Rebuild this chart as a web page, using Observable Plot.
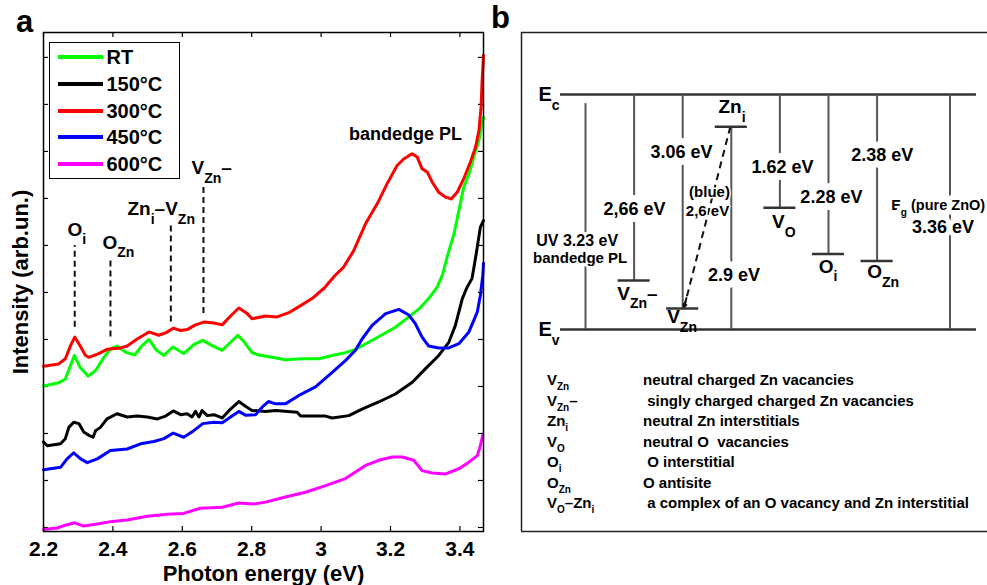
<!DOCTYPE html>
<html>
<head>
<meta charset="utf-8">
<script src="https://cdn.jsdelivr.net/npm/d3@7"></script>
<script src="https://cdn.jsdelivr.net/npm/@observablehq/plot@0.6"></script>
<style>
  body { margin: 0; background: #fff; }
  #fig { position: relative; width: 987px; height: 585px; overflow: hidden;
         font-family: 'Liberation Sans', Arial, sans-serif; font-weight: bold; color: #000; }
  #fig svg { position: absolute; top: 0; }
  .tag { position: absolute; font-size: 31px; line-height: 31px; }
  #legendA { position: absolute; left: 49px; top: 42px; width: 129px; height: 135px;
             border: 1.5px solid #000; background: #fff; }
  .sw { position: absolute; left: 7.5px; width: 45px; height: 4px; }
  .lt { position: absolute; left: 56.5px; font-size: 20px; line-height: 20px; white-space: pre; }
  #listB { position: absolute; left: 547px; top: 370px; }
  .row { position: relative; height: 20.55px; font-size: 15px; line-height: 20.55px; white-space: pre; }
  .row .sym { position: absolute; left: 0; top: 0; }
  .row .desc { position: absolute; left: 96px; top: 0; }
  .sb { font-size: 10px; line-height: 10px; position: relative; top: 5px; }
</style>
</head>
<body>
<div id="fig"></div>
<script>
// ---------------- Panel a data ----------------
const seriesNames = ["RT", "150°C", "300°C", "450°C", "600°C"];
const seriesColors = ["#00ff00", "#000000", "#ff0000", "#0000ff", "#ff00ff"];

const specRT = [[2.2,3.01],[2.244,3.08],[2.263,3.16],[2.278,3.45],[2.289,3.66],[2.305,3.41],[2.329,3.22],[2.35,3.34],[2.374,3.62],[2.393,3.80],[2.412,3.86],[2.436,3.73],[2.463,3.67],[2.484,3.87],[2.504,4.0],[2.526,3.77],[2.547,3.66],[2.573,3.84],[2.604,3.70],[2.633,3.89],[2.659,3.98],[2.686,3.87],[2.715,3.77],[2.739,3.94],[2.76,4.09],[2.779,3.94],[2.801,3.72],[2.82,3.67],[2.859,3.62],[2.897,3.57],[2.945,3.59],[2.993,3.59],[3.032,3.66],[3.07,3.72],[3.099,3.79],[3.137,3.94],[3.176,4.10],[3.214,4.26],[3.253,4.48],[3.282,4.65],[3.31,4.87],[3.334,5.11],[3.35,5.38],[3.363,5.75],[3.383,6.25],[3.397,6.74],[3.411,7.24],[3.426,7.52],[3.44,7.88],[3.455,8.24],[3.464,8.62],[3.468,8.72]];
const spec150 = [[2.2,1.82],[2.211,1.74],[2.249,1.78],[2.263,1.89],[2.273,2.13],[2.287,2.24],[2.302,2.21],[2.316,2.03],[2.331,1.96],[2.343,1.92],[2.35,2.06],[2.364,2.13],[2.383,2.31],[2.412,2.42],[2.441,2.35],[2.47,2.37],[2.499,2.35],[2.528,2.31],[2.552,2.37],[2.574,2.48],[2.595,2.40],[2.614,2.42],[2.628,2.35],[2.638,2.47],[2.648,2.35],[2.657,2.49],[2.672,2.38],[2.691,2.40],[2.715,2.33],[2.739,2.52],[2.763,2.68],[2.782,2.58],[2.801,2.49],[2.84,2.47],[2.869,2.49],[2.931,2.45],[2.941,2.37],[3.013,2.37],[3.032,2.33],[3.08,2.38],[3.118,2.52],[3.166,2.67],[3.214,2.84],[3.263,3.09],[3.301,3.38],[3.339,3.66],[3.368,3.94],[3.387,4.30],[3.407,4.87],[3.42,5.1],[3.435,5.3],[3.442,5.6],[3.45,5.96],[3.459,6.39],[3.468,6.53]];
const spec300 = [[2.2,3.43],[2.244,3.48],[2.263,3.59],[2.278,3.87],[2.29,4.05],[2.305,3.87],[2.321,3.66],[2.331,3.62],[2.359,3.70],[2.383,3.79],[2.422,3.82],[2.441,3.86],[2.47,4.01],[2.504,4.16],[2.532,4.09],[2.552,4.14],[2.574,4.24],[2.595,4.19],[2.614,4.21],[2.638,4.31],[2.662,4.37],[2.691,4.35],[2.715,4.31],[2.739,4.50],[2.763,4.67],[2.787,4.55],[2.801,4.44],[2.84,4.50],[2.873,4.48],[2.907,4.57],[2.941,4.72],[2.974,4.87],[3.01,5.1],[3.04,5.36],[3.065,5.54],[3.094,5.89],[3.128,6.46],[3.162,6.89],[3.19,7.31],[3.219,7.70],[3.238,7.84],[3.262,7.95],[3.277,7.88],[3.291,7.63],[3.306,7.56],[3.32,7.35],[3.339,7.13],[3.358,7.03],[3.375,6.99],[3.392,7.13],[3.411,7.42],[3.43,7.77],[3.445,8.09],[3.455,8.45],[3.461,8.94],[3.464,9.51],[3.468,10.04]];
const spec450 = [[2.2,1.23],[2.249,1.28],[2.268,1.46],[2.287,1.59],[2.307,1.46],[2.326,1.38],[2.355,1.46],[2.393,1.64],[2.441,1.67],[2.48,1.78],[2.518,1.83],[2.547,1.89],[2.574,2.01],[2.604,1.92],[2.633,2.06],[2.659,2.21],[2.691,2.24],[2.715,2.23],[2.739,2.35],[2.763,2.47],[2.782,2.39],[2.811,2.40],[2.83,2.56],[2.848,2.68],[2.869,2.63],[2.897,2.63],[2.936,2.81],[2.984,2.99],[3.032,3.30],[3.07,3.55],[3.099,3.77],[3.118,4.01],[3.147,4.30],[3.186,4.55],[3.224,4.64],[3.253,4.52],[3.272,4.33],[3.291,4.05],[3.31,3.86],[3.339,3.82],[3.368,3.82],[3.397,3.91],[3.426,4.16],[3.45,4.58],[3.459,4.94],[3.466,5.36],[3.468,5.62]];
const spec600 = [[2.2,-0.04],[2.239,-0.01],[2.268,0.06],[2.29,0.10],[2.316,0.03],[2.359,0.08],[2.398,0.13],[2.441,0.16],[2.499,0.24],[2.556,0.28],[2.604,0.30],[2.652,0.41],[2.715,0.43],[2.763,0.52],[2.806,0.50],[2.84,0.54],[2.897,0.65],[2.955,0.75],[3.013,0.89],[3.07,1.04],[3.128,1.32],[3.166,1.43],[3.205,1.50],[3.234,1.50],[3.267,1.43],[3.291,1.21],[3.32,1.16],[3.359,1.14],[3.397,1.25],[3.426,1.39],[3.45,1.53],[3.459,1.74],[3.466,1.96]];

const xTicks = [2.2, 2.4, 2.6, 2.8, 3.0, 3.2, 3.4];
const xTickLabels = ["2.2", "2.4", "2.6", "2.8", "3", "3.2", "3.4"];
const yTicks = [0, 1, 2, 3, 4, 5, 6, 7, 8, 9, 10];

// defect markers (dashed) in panel a
const markLabels = ["O_{i}", "O_{Zn}", "Zn_{i}–V_{Zn}", "V_{Zn}–"];
const markE = [2.29, 2.393, 2.567, 2.661];
const markTop = [6.0, 5.75, 6.43, 7.24];
const markBottom = [4.26, 4.05, 4.37, 4.55];
const markLabelE = [2.269, 2.370, 2.442, 2.6265];
const markLabelY = [6.34, 6.06, 6.77, 7.64];
const peakLabel = ["bandedge PL"], peakLabelE = [3.243], peakLabelY = [8.36];

// ---------------- Panel b data ----------------
const bandNames = ["E_{c}", "E_{v}"];
const bandE = [3.36, 0];
const bandColStart = 0.486, bandColEnd = 9.045, bandLabelCol = 0.033;

const transCol = [1, 2, 3, 4, 5, 6, 7, 8.5];
const transTop = [3.23, 3.36, 3.36, 2.90, 3.36, 3.36, 3.36, 3.36];
const transBottom = [0, 0.70, 0.30, 0, 1.74, 1.08, 0.98, 0];

const levelNames = ["V_{Zn}–", "V_{Zn}", "Zn_{i}", "V_{O}", "O_{i}", "O_{Zn}"];
const levelCol = [2, 3, 4, 5, 6, 7];
const levelE = [0.70, 0.30, 2.90, 1.74, 1.08, 0.98];
const levelHalfWidth = 0.33;
const levelLabelCol = [1.652, 2.68, 3.737, 4.84, 5.8, 6.796];
const levelLabelE = [0.51, 0.176, 3.18, 1.534, 0.90, 0.819];

const eLabels = ["2,66 eV", "3.06 eV", "2.9 eV", "1.62 eV", "2.28 eV", "2.38 eV"];
const eLabelCol = [2.008, 2.975, 4.055, 5.053, 6.06, 7.105];
const eLabelE = [1.723, 2.53, 0.772, 2.323, 1.89, 2.495];

const uvLabels = ["UV 3.23 eV", "bandedge PL"], uvLabelCol = [0.829, 0.891], uvLabelE = [1.265, 1.015];
const egLabels = ["E_{g} (pure ZnO)", "3.36 eV"], egLabelCol = [7.29, 8.356], egLabelE = [1.78, 1.463];
const blueLabels = ["(blue)", "2,6 eV"], blueLabelCol = [3.551, 3.51], blueLabelE = [1.969, 1.687];
const blueArrow = {col1: 3.98, e1: 2.9, col2: 3.03, e2: 0.32};

const listSymbols = ["V_{Zn}", "V_{Zn}–", "Zn_{i}", "V_{O}", "O_{i}", "O_{Zn}", "V_{O}–Zn_{i}"];
const listDescriptions = ["neutral charged Zn vacancies", " singly charged charged Zn vacancies", "neutral Zn interstitials",
  "neutral O  vacancies", " O interstitial", "O antisite", " a complex of an O vacancy and Zn interstitial"];

// ---------------- helpers ----------------
const FONT = "'Liberation Sans', Arial, sans-serif";
function applySubscripts(svg) {
  const ns = "http://www.w3.org/2000/svg";
  svg.querySelectorAll("text").forEach(t => {
    const s = t.textContent;
    if (!s.includes("_{")) return;
    const fsEl = t.closest("[font-size]");
    const fs = fsEl ? parseFloat(fsEl.getAttribute("font-size")) : 16;
    const sfs = Math.round(fs * 0.72);
    const shift = fs * 0.45;
    t.textContent = "";
    let down = false;
    const add = (str, sub) => {
      if (!str) return;
      const ts = document.createElementNS(ns, "tspan");
      ts.textContent = str;
      if (sub) { ts.setAttribute("font-size", sfs); if (!down) ts.setAttribute("dy", shift); down = true; }
      else if (down) { ts.setAttribute("dy", -shift); down = false; }
      t.appendChild(ts);
    };
    const re = /_\{([^}]*)\}/g;
    let last = 0, m;
    while ((m = re.exec(s))) { add(s.slice(last, m.index), false); add(m[1], true); last = re.lastIndex; }
    add(s.slice(last), false);
  });
}
const htmlSub = s => s.replace(/_\{([^}]*)\}/g, '<span class="sb">$1</span>');
const idx = n => d3.range(n);

// ---------------- Panel a ----------------
const A = {width: 500, height: 585, left: 43, right: 17, top: 32, bottom: 54};
const aW = A.width - A.left - A.right, aH = A.height - A.top - A.bottom;
const allSpectra = [specRT, spec150, spec300, spec450, spec600];
const table = [];
allSpectra.forEach((arr, k) => arr.forEach(([e, v]) => table.push({series: seriesNames[k], e, v})));

const plotA = Plot.plot({
  width: A.width, height: A.height,
  marginLeft: A.left, marginRight: A.right, marginTop: A.top, marginBottom: A.bottom,
  style: {fontFamily: FONT, fontWeight: "bold", fontSize: "21px", background: "transparent", overflow: "visible"},
  x: {domain: [2.2, 3.468], ticks: xTicks, tickFormat: d => xTickLabels[xTicks.indexOf(d)], tickSize: 0, tickPadding: 10, label: null},
  y: {domain: [-0.085, 10.53], axis: null},
  color: {domain: seriesNames, range: seriesColors},
  marks: [
    Plot.tickX(xTicks, {x: d => d, insetTop: aH - 5, stroke: "#000", strokeWidth: 1.2}),
    Plot.tickX(xTicks, {x: d => d, insetBottom: aH - 5, stroke: "#000", strokeWidth: 1.2}),
    Plot.tickY(yTicks, {y: d => d, insetRight: aW - 5, stroke: "#000", strokeWidth: 1.2}),
    Plot.tickY(yTicks, {y: d => d, insetLeft: aW - 5, stroke: "#000", strokeWidth: 1.2}),
    Plot.ruleX(idx(markE.length), {x: i => markE[i], y1: i => markBottom[i], y2: i => markTop[i],
      stroke: "#111", strokeWidth: 2, strokeDasharray: "6,4"}),
    Plot.line(table, {x: "e", y: "v", z: "series", stroke: "series", strokeWidth: 3,
      strokeLinejoin: "round", strokeLinecap: "round"}),
    Plot.text(idx(markLabels.length), {x: i => markLabelE[i], y: i => markLabelY[i], text: i => markLabels[i],
      textAnchor: "start", fontSize: 19, fontWeight: "bold", fill: "#000"}),
    Plot.text(idx(peakLabel.length), {x: i => peakLabelE[i], y: i => peakLabelY[i], text: i => peakLabel[i],
      fontSize: 18, fontWeight: "bold", fill: "#000"}),
    Plot.frame({stroke: "#000", strokeWidth: 1.5}),
    Plot.text(["Intensity (arb.un.)"], {frameAnchor: "left", textAnchor: "middle", lineAnchor: "middle",
      rotate: -90, dx: -23, fontSize: 22, fontWeight: "bold", fill: "#000"}),
    Plot.text(["Photon energy (eV)"], {frameAnchor: "bottom", textAnchor: "middle", lineAnchor: "middle",
      dy: 42, fontSize: 22, fontWeight: "bold", fill: "#000"})
  ]
});
plotA.style.left = "0px";
applySubscripts(plotA);

// ---------------- Panel b ----------------
const B = {width: 487, height: 585, left: 21, right: 0, top: 32, bottom: 54};
const bX = [-0.317, 9.272], bY = [-2.888, 4.2465];
const halo = w => ({stroke: "white", strokeWidth: w, paintOrder: "stroke", strokeLinejoin: "round", fill: "#000", fontWeight: "bold"});

const plotB = Plot.plot({
  width: B.width, height: B.height,
  marginLeft: B.left, marginRight: B.right, marginTop: B.top, marginBottom: B.bottom,
  style: {fontFamily: FONT, fontWeight: "bold", fontSize: "16px", background: "transparent", overflow: "visible"},
  x: {domain: bX, axis: null},
  y: {domain: bY, axis: null},
  marks: [
    Plot.ruleY([bY[0], bY[1]], {y: d => d, stroke: "#222", strokeWidth: 1.5}),
    Plot.ruleX([bX[0]], {x: d => d, stroke: "#222", strokeWidth: 1.5}),
    Plot.ruleY(bandE, {y: d => d, x1: bandColStart, x2: bandColEnd, stroke: "#333", strokeWidth: 2.5}),
    Plot.ruleX(idx(transCol.length), {x: i => transCol[i], y1: i => transBottom[i], y2: i => transTop[i],
      stroke: "#555", strokeWidth: 2}),
    Plot.link([blueArrow], {x1: "col1", y1: "e1", x2: "col2", y2: "e2", stroke: "#111", strokeWidth: 2, strokeDasharray: "7,5"}),
    Plot.arrow([blueArrow], {x1: d => d.col2 + 0.05 * (d.col1 - d.col2), y1: d => d.e2 + 0.05 * (d.e1 - d.e2),
      x2: "col2", y2: "e2", stroke: "#111", strokeWidth: 2, headLength: 11}),
    Plot.text(idx(blueLabels.length), {x: i => blueLabelCol[i], y: i => blueLabelE[i], text: i => blueLabels[i],
      fontSize: 15, ...halo(3)}),
    Plot.text(idx(uvLabels.length), {x: i => uvLabelCol[i], y: i => uvLabelE[i], text: i => uvLabels[i],
      fontSize: i => (i === 0 ? 16 : 15), ...halo(6)}),
    Plot.text(idx(egLabels.length).slice(0, 1), {x: i => egLabelCol[i], y: i => egLabelE[i], text: i => egLabels[i],
      textAnchor: "start", fontSize: 14.5, ...halo(10)}),
    Plot.text(idx(egLabels.length).slice(1), {x: i => egLabelCol[i], y: i => egLabelE[i], text: i => egLabels[i],
      fontSize: 18, ...halo(10)}),
    Plot.text(idx(eLabels.length), {x: i => eLabelCol[i], y: i => eLabelE[i], text: i => eLabels[i],
      fontSize: 18, ...halo(14)}),
    Plot.ruleY(idx(levelE.length), {y: i => levelE[i], x1: i => levelCol[i] - levelHalfWidth,
      x2: i => levelCol[i] + levelHalfWidth, stroke: "#333", strokeWidth: 2.5}),
    Plot.text(idx(levelNames.length), {x: i => levelLabelCol[i], y: i => levelLabelE[i], text: i => levelNames[i],
      textAnchor: "start", fontSize: 19, fontWeight: "bold", fill: "#000"}),
    Plot.text(idx(bandNames.length), {x: bandLabelCol, y: i => bandE[i], text: i => bandNames[i],
      textAnchor: "start", fontSize: 20, fontWeight: "bold", fill: "#000"})
  ]
});
plotB.style.left = "500px";
applySubscripts(plotB);

// ---------------- assemble ----------------
const fig = document.getElementById("fig");
fig.appendChild(plotA);
fig.appendChild(plotB);

const tagA = document.createElement("div");
tagA.className = "tag"; tagA.style.left = "16px"; tagA.style.top = "6px"; tagA.textContent = "a";
const tagB = document.createElement("div");
tagB.className = "tag"; tagB.style.left = "491px"; tagB.style.top = "2px"; tagB.textContent = "b";
fig.appendChild(tagA); fig.appendChild(tagB);

// legend of panel a
const legend = document.createElement("div");
legend.id = "legendA";
const legendCenters = [13.8, 40.5, 67.5, 94.2, 120.8];
seriesNames.forEach((name, i) => {
  const sw = document.createElement("div");
  sw.className = "sw"; sw.style.top = (legendCenters[i] - 2) + "px"; sw.style.background = seriesColors[i];
  const lt = document.createElement("div");
  lt.className = "lt"; lt.style.top = (legendCenters[i] - 10) + "px"; lt.textContent = name;
  legend.appendChild(sw); legend.appendChild(lt);
});
fig.appendChild(legend);

// list of panel b
const list = document.createElement("div");
list.id = "listB";
listSymbols.forEach((s, i) => {
  const row = document.createElement("div");
  row.className = "row";
  row.innerHTML = `<span class="sym">${htmlSub(s)}</span><span class="desc">${listDescriptions[i]}</span>`;
  list.appendChild(row);
});
fig.appendChild(list);
</script>
</body>
</html>
